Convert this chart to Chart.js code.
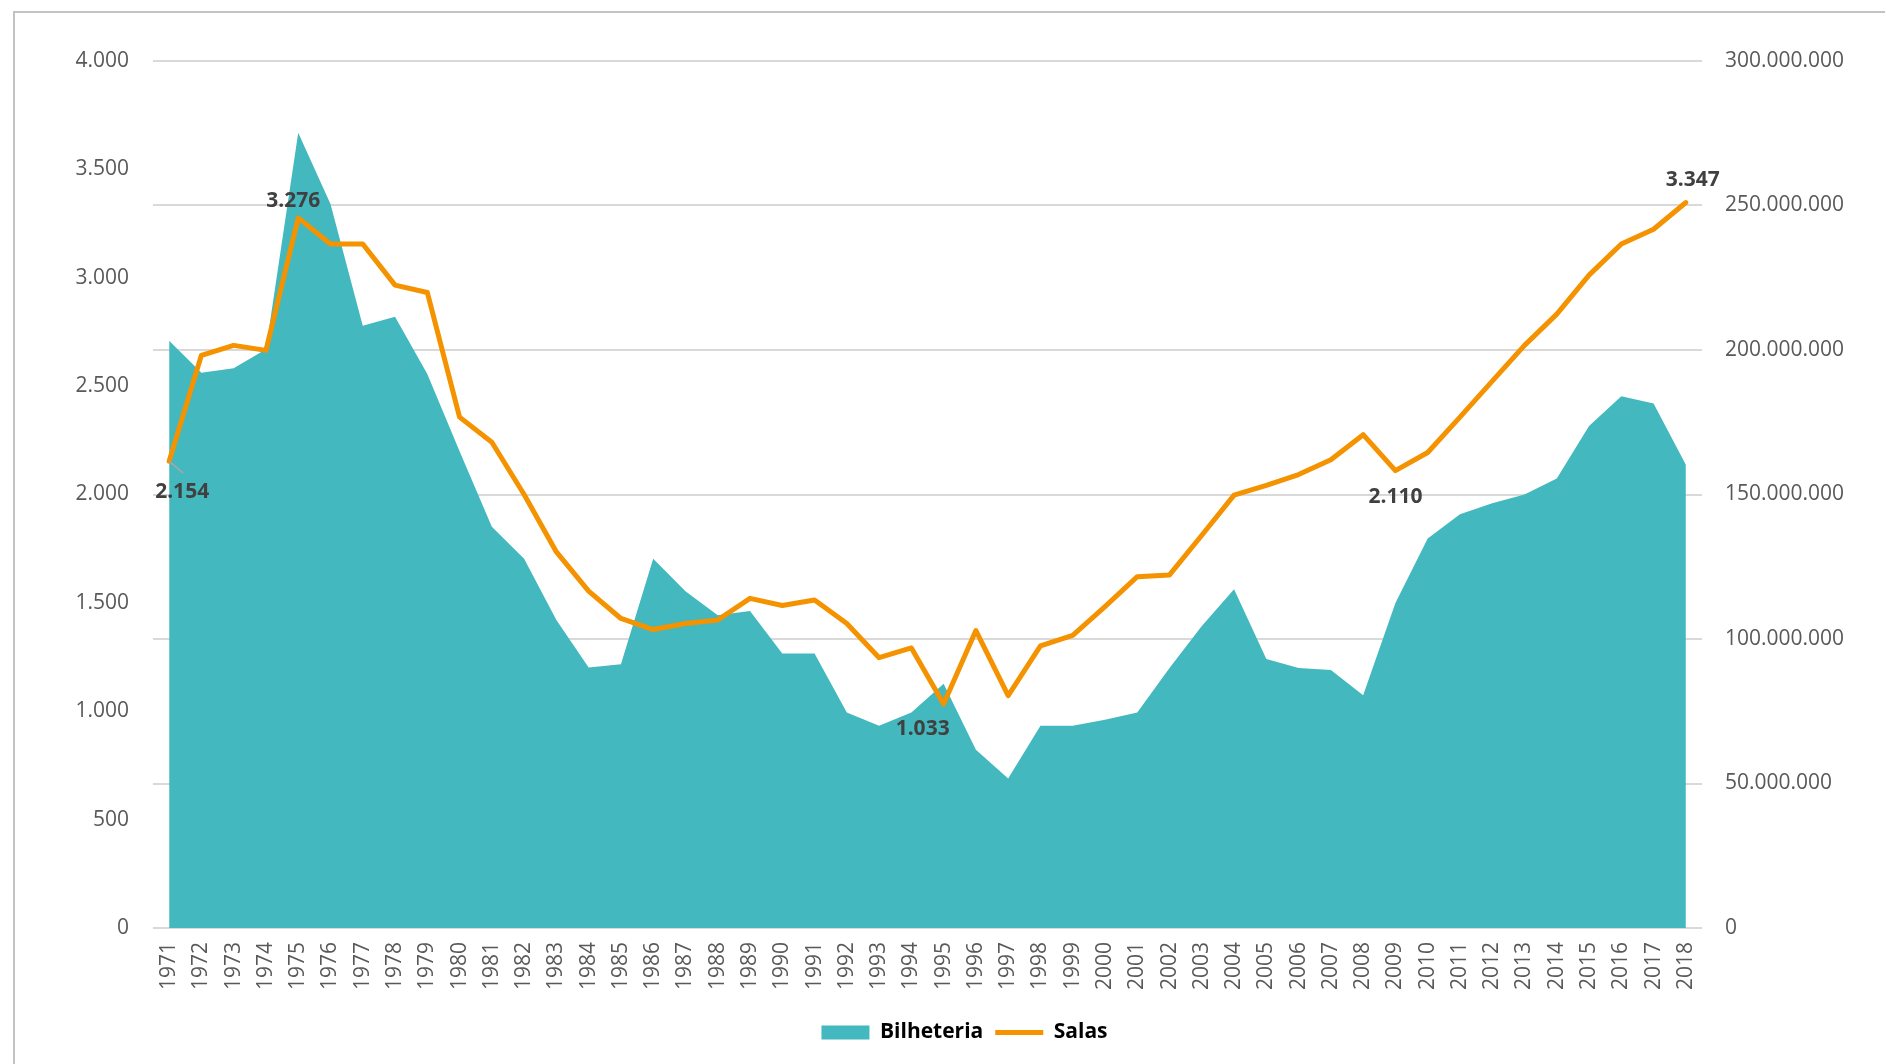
<!DOCTYPE html>
<html>
<head>
<meta charset="utf-8">
<script src="https://cdn.jsdelivr.net/npm/chart.js@4.4.1/dist/chart.umd.min.js"></script>
<style>
  html, body { margin: 0; padding: 0; background: #fff; }
  #wrap { position: relative; width: 1885px; height: 1064px; overflow: hidden; }
  #frame { position: absolute; left: 13px; top: 11px; right: -5px; bottom: -5px;
           border-top: 2px solid #c3c3c3; border-left: 2px solid #c3c3c3; }
  #myChart { position: absolute; left: 0; top: 0; }
</style>
</head>
<body>
<div id="wrap">
  <div id="frame"></div>
  <canvas id="myChart" width="1885" height="1064"></canvas>
</div>
<script>
const years = [
  "1971", "1972", "1973", "1974", "1975", "1976", "1977", "1978", "1979", "1980",
  "1981", "1982", "1983", "1984", "1985", "1986", "1987", "1988", "1989", "1990",
  "1991", "1992", "1993", "1994", "1995", "1996", "1997", "1998", "1999", "2000",
  "2001", "2002", "2003", "2004", "2005", "2006", "2007", "2008", "2009", "2010",
  "2011", "2012", "2013", "2014", "2015", "2016", "2017", "2018",
];

// público (bilheteria), eixo da direita
const bilheteria = [
  203200000, 192100000, 193700000, 200300000, 275200000, 250500000, 208400000, 211500000, 191700000, 165000000,
  138800000, 127800000, 106600000, 90100000, 91300000, 127800000, 116500000, 108200000, 109700000, 95000000,
  95000000, 74600000, 70000000, 74600000, 84500000, 61700000, 51700000, 70000000, 70000000, 72100000,
  74600000, 90000000, 104500000, 117200000, 93100000, 90000000, 89300000, 80500000, 112500000, 134800000,
  143200000, 147000000, 150000000, 155500000, 173700000, 184000000, 181500000, 160300000,
];

// número de salas, eixo da esquerda
const salas = [
  2154, 2642, 2688, 2665, 3276, 3156, 3156, 2966, 2932, 2357,
  2241, 2000, 1735, 1554, 1428, 1377, 1405, 1421, 1521, 1488,
  1513, 1405, 1247, 1292, 1033, 1372, 1072, 1302, 1350, 1483,
  1621, 1629, 1812, 1997, 2042, 2092, 2160, 2276, 2110, 2194,
  2357, 2523, 2688, 2832, 3012, 3156, 3224, 3347,
];

const salasTicks = { min: 0, max: 4000, step: 500 };
const bilheteriaTicks = { min: 0, max: 300000000, step: 50000000 };

// anos com rótulo de dados na linha de salas
const labeledYears = ["1971", "1975", "1995", "2009", "2018"];

const teal = "#43b8be";
const orange = "#f49200";
const tickColor = "#595959";

const fmt = (n) => String(n).replace(/\B(?=(\d{3})+(?!\d))/g, ".");

// deslocamento de cada rótulo em relação ao ponto
const labelOffsets = {
  "1971": { dx: 13, dy: 31, leader: true },
  "1975": { dx: -5, dy: -17 },
  "1995": { dx: -21, dy: 25 },
  "2009": { dx: 0, dy: 26 },
  "2018": { dx: 7, dy: -23 },
};

const dataLabels = {
  id: "dataLabels",
  afterDatasetsDraw(chart) {
    const meta = chart.getDatasetMeta(1);
    const ctx = chart.ctx;
    ctx.save();
    ctx.font = "bold 21px 'Open Sans'";
    ctx.fillStyle = "#404040";
    ctx.textAlign = "center";
    ctx.textBaseline = "middle";
    labeledYears.forEach((yr) => {
      const i = years.indexOf(yr);
      const pt = meta.data[i];
      const off = labelOffsets[yr];
      if (off.leader) {
        ctx.strokeStyle = "#a6a6a6";
        ctx.lineWidth = 1.5;
        ctx.beginPath();
        ctx.moveTo(pt.x, pt.y);
        ctx.lineTo(pt.x + 14, pt.y + 12);
        ctx.stroke();
      }
      ctx.fillText(fmt(salas[i]), pt.x + off.dx, pt.y + off.dy);
    });
    ctx.restore();
  },
};

const ctx = document.getElementById("myChart");
const myChart = new Chart(ctx, {
  type: "line",
  data: {
    labels: years,
    datasets: [
      {
        label: "Bilheteria",
        data: bilheteria,
        yAxisID: "y2",
        fill: "origin",
        backgroundColor: teal,
        borderColor: teal,
        borderWidth: 0,
        pointRadius: 0,
        tension: 0,
        order: 2,
      },
      {
        label: "Salas",
        data: salas,
        yAxisID: "y",
        fill: false,
        borderColor: orange,
        backgroundColor: orange,
        borderWidth: 5,
        borderJoinStyle: "round",
        borderCapStyle: "round",
        pointRadius: 0,
        tension: 0,
        order: 1,
      },
    ],
  },
  options: {
    responsive: false,
    animation: false,
    layout: { padding: { top: 61, left: 44, right: 0, bottom: 11 } },
    plugins: {
      title: { display: false },
      tooltip: { enabled: false },
      legend: {
        position: "bottom",
        labels: {
          usePointStyle: true,
          pointStyleWidth: 48,
          boxHeight: 14,
          padding: 12,
          color: "#404040",
          font: { family: "'Open Sans'", size: 21, weight: "bold" },
          generateLabels: () => [
            { text: "Bilheteria", fillStyle: teal, strokeStyle: teal, lineWidth: 0, pointStyle: "rect", datasetIndex: 0 },
            { text: "Salas", fillStyle: orange, strokeStyle: orange, lineWidth: 5, pointStyle: "line", datasetIndex: 1 },
          ],
        },
      },
    },
    scales: {
      x: {
        offset: true,
        grid: { display: false, drawTicks: false },
        border: { display: false },
        ticks: {
          autoSkip: false,
          minRotation: 90,
          maxRotation: 90,
          padding: 14,
          color: tickColor,
          font: { family: "'Open Sans'", size: 21 },
        },
        afterFit: (s) => { s.height = 82; },
      },
      y: {
        position: "left",
        min: salasTicks.min,
        max: salasTicks.max,
        grid: { display: false, drawTicks: false },
        border: { display: false },
        ticks: {
          stepSize: salasTicks.step,
          padding: 24,
          color: tickColor,
          font: { family: "'Open Sans'", size: 21 },
          callback: (v) => fmt(v),
        },
        afterFit: (s) => { s.width = 109; },
      },
      y2: {
        position: "right",
        min: bilheteriaTicks.min,
        max: bilheteriaTicks.max,
        grid: { display: true, drawTicks: false, color: "#d9d9d9", lineWidth: 2 },
        border: { display: false },
        ticks: {
          stepSize: bilheteriaTicks.step,
          padding: 23,
          color: tickColor,
          font: { family: "'Open Sans'", size: 21 },
          callback: (v) => fmt(v),
        },
        afterFit: (s) => { s.width = 183; },
      },
    },
  },
  plugins: [dataLabels],
});
</script>
</body>
</html>
